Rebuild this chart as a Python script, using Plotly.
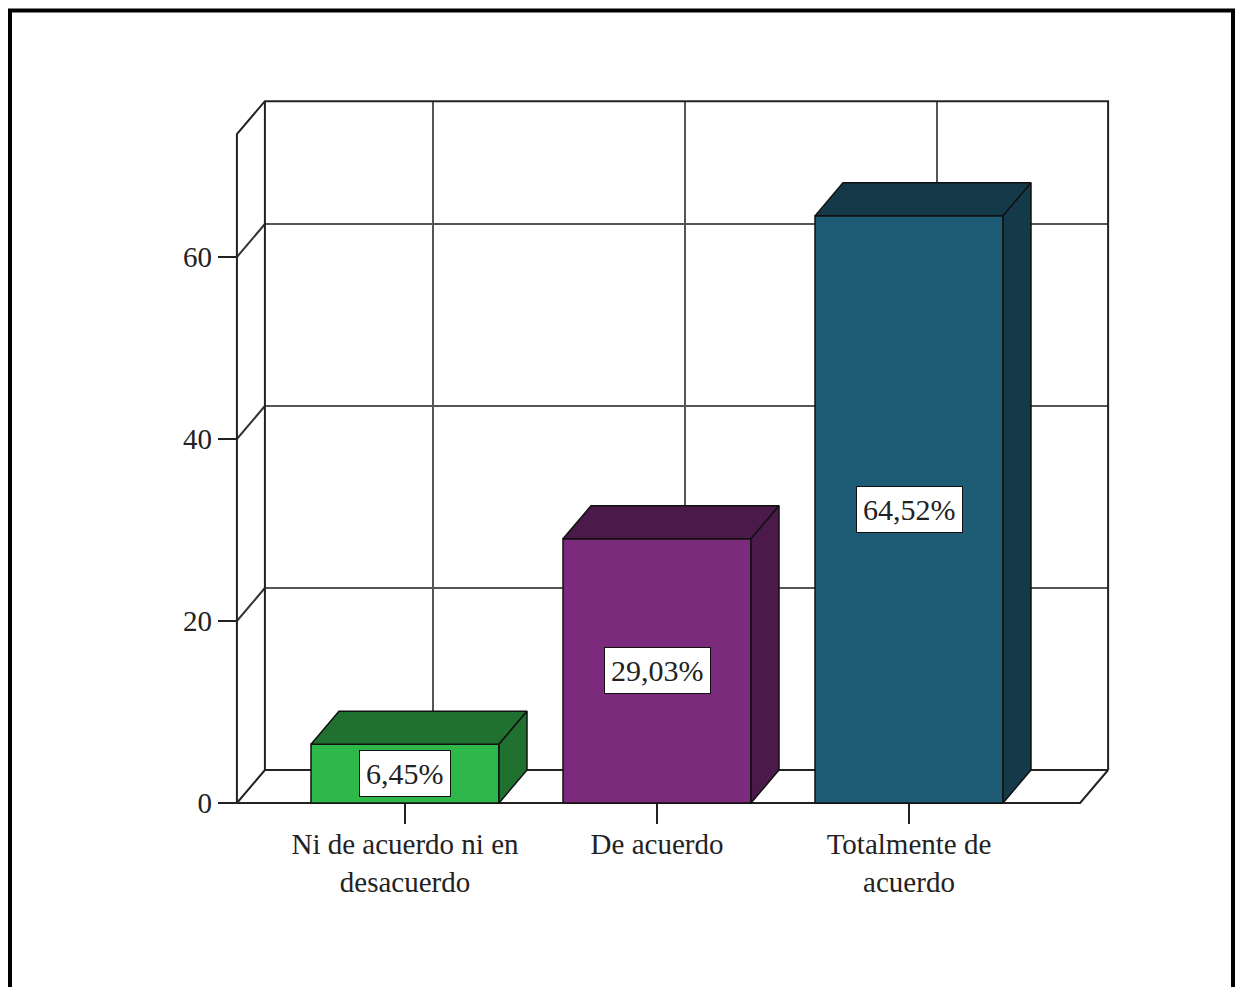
import plotly.graph_objects as go

# Survey response shares (percent)
categories = ["Ni de acuerdo ni en<br>desacuerdo", "De acuerdo", "Totalmente de<br>acuerdo"]
values = [6.45, 29.03, 64.52]
y_ticks = [0, 20, 40, 60]

front_colors = ["#2fb84a", "#7c2a7b", "#1e5b74"]
dark_colors = ["#207030", "#4b1a4a", "#143a49"]

W, H = 1238, 987
PX_PER_CAT = 252.0      # horizontal pixels per category step
PX_PER_UNIT = 9.1       # vertical pixels per percentage point
X0_PX, Y0_PX = 405.0, 803.0  # pixel position of category 0 / value 0 on the front plane

# 3D box geometry in axis units
DX = 28 / PX_PER_CAT
DY = 33 / PX_PER_UNIT
HW = 94 / PX_PER_CAT
XL, XR = -0.667, 2.679
YMAX = 73.5

x_range = [-X0_PX / PX_PER_CAT, (W - X0_PX) / PX_PER_CAT]
y_range = [-(H - Y0_PX) / PX_PER_UNIT, Y0_PX / PX_PER_UNIT]

fig = go.Figure()


def add_lines(xs, ys, color, width):
    fig.add_trace(go.Scatter(x=xs, y=ys, mode="lines", hoverinfo="skip",
                             line=dict(color=color, width=width), showlegend=False))


# back wall gridlines
gx, gy = [], []
for t in y_ticks[1:]:
    gx += [XL + DX, XR + DX, None]
    gy += [t + DY, t + DY, None]
for i in range(len(categories)):
    gx += [i + DX, i + DX, None]
    gy += [DY, YMAX + DY, None]
add_lines(gx, gy, "#555555", 2)

# left wall tick diagonals
lx, ly = [], []
for t in y_ticks[1:]:
    lx += [XL, XL + DX, None]
    ly += [t, t + DY, None]
add_lines(lx, ly, "#333333", 2)

# walls and floor outline
ex = [XL, XL, XL + DX, XR + DX, XR + DX, None,
      XL + DX, XL + DX, None,
      XL, XR, XR + DX, None,
      XL, XL + DX, XR + DX]
ey = [0, YMAX, YMAX + DY, YMAX + DY, DY, None,
      YMAX + DY, DY, None,
      0, 0, DY, None,
      0, DY, DY]
add_lines(ex, ey, "#222222", 2)

# 3D bars
for i, v in enumerate(values):
    faces = [
        ([i - HW, i + HW, i + HW, i - HW, i - HW], [0, 0, v, v, 0], front_colors[i]),
        ([i - HW, i + HW, i + HW + DX, i - HW + DX, i - HW], [v, v, v + DY, v + DY, v], dark_colors[i]),
        ([i + HW, i + HW + DX, i + HW + DX, i + HW, i + HW], [0, DY, v + DY, v, 0], dark_colors[i]),
    ]
    for fx, fy, c in faces:
        fig.add_trace(go.Scatter(x=fx, y=fy, mode="lines", fill="toself", fillcolor=c,
                                 line=dict(color="#111111", width=1.5),
                                 hoverinfo="skip", showlegend=False))
    fig.add_annotation(x=i, y=v / 2, text=f"{v:.2f}%".replace(".", ","), showarrow=False,
                       bgcolor="white", bordercolor="#111111", borderwidth=1, borderpad=6,
                       font=dict(family="Liberation Serif", size=30, color="#222222"))

serif = dict(family="Liberation Serif", size=29, color="#222222")

fig.update_layout(
    width=W, height=H,
    margin=dict(l=0, r=0, t=0, b=0),
    paper_bgcolor="white", plot_bgcolor="white",
    xaxis=dict(range=x_range, showgrid=False, zeroline=False, showline=False,
               tickmode="array", tickvals=list(range(len(categories))), ticktext=categories,
               ticks="outside", ticklen=20, tickwidth=2, tickcolor="#222222",
               ticklabelstandoff=-5,
               tickfont=serif, anchor="free", position=(H - Y0_PX) / H, fixedrange=True),
    yaxis=dict(range=y_range, showgrid=False, zeroline=False, showline=False,
               tickmode="array", tickvals=y_ticks,
               ticks="outside", ticklen=19, tickwidth=2, tickcolor="#222222",
               tickfont=serif, anchor="free", position=(X0_PX + XL * PX_PER_CAT) / W,
               fixedrange=True),
    shapes=[dict(type="rect", xref="paper", yref="paper",
                 x0=10 / W, x1=1233 / W, y0=-10 / H, y1=(H - 10.5) / H,
                 line=dict(color="black", width=4))],
)

fig.write_html("out.html")
